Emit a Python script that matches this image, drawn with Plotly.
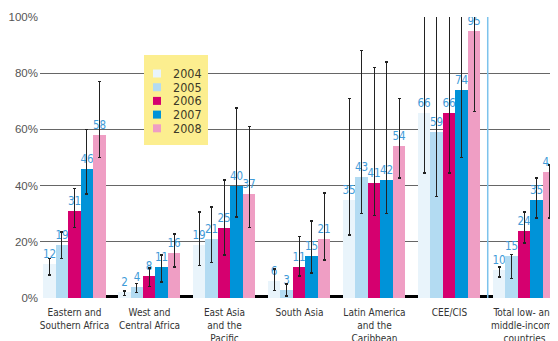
import plotly.graph_objects as go

regions = ["Eastern and<br>Southern Africa", "West and<br>Central Africa", "East Asia<br>and the<br>Pacific",
           "South Asia", "Latin America<br>and the<br>Caribbean", "CEE/CIS",
           "Total low- and<br>middle-income<br>countries"]
years = ["2004", "2005", "2006", "2007", "2008"]
y_ticks = [0, 20, 40, 60, 80, 100]
y_tick_labels = ["0%", "20%", "40%", "60%", "80%", "100%"]

v2004 = [12, 2, 19, 6, 35, 66, 10]
v2005 = [19, 4, 21, 3, 43, 59, 15]
v2006 = [31, 8, 25, 11, 41, 66, 24]
v2007 = [46, 11, 40, 15, 42, 74, 35]
v2008 = [58, 16, 37, 21, 54, 95, 45]

hi2004 = [14.2, 2.5, 30.6, 10.3, 71, 110, 11]
hi2005 = [23.5, 5.3, 32.4, 5, 88, 110, 15.5]
hi2006 = [39, 10.7, 42, 22, 82, 110, 30.6]
hi2007 = [60, 15.3, 67.6, 27.4, 84, 110, 42.7]
hi2008 = [77, 22.8, 61, 37.4, 71, 110, 47.3]

lo2004 = [8.2, 1, 11.7, 2.8, 22.4, 44.5, 7.5]
lo2005 = [14.2, 2.1, 12.5, 0.7, 30, 36, 7]
lo2006 = [25, 4, 15.3, 7.8, 29.5, 44.5, 19.6]
lo2007 = [37, 5.7, 28.8, 8.9, 30, 50, 28.5]
lo2008 = [50, 11, 25, 13.5, 42.7, 66.5, 28.5]

baseline_stub = [1, 1, 1, 1, 1, 1, 1]

colors = ["#e9f4fb", "#b3dbf2", "#d5006f", "#0093d8", "#ef9ec4"]
NARROW = "DejaVu Sans Condensed, sans-serif"

series = [v2004, v2005, v2006, v2007, v2008]
highs = [hi2004, hi2005, hi2006, hi2007, hi2008]
lows = [lo2004, lo2005, lo2006, lo2007, lo2008]

fig = go.Figure()
for yr, vals, hi, lo, col in zip(years, series, highs, lows, colors):
    fig.add_trace(go.Bar(
        name=yr, x=regions, y=vals, marker=dict(color=col, line=dict(width=0)),
        text=[str(v) for v in vals], textposition="outside", constraintext="none",
        textfont=dict(family=NARROW, size=11.5, color="#3f9bd8"),
        error_y=dict(type="data", symmetric=False,
                     array=[h - v for h, v in zip(hi, vals)],
                     arrayminus=[v - l for v, l in zip(vals, lo)],
                     color="#222222", thickness=1.2, width=1.5),
    ))
fig.add_trace(go.Bar(name="", x=regions, y=baseline_stub, marker=dict(color="black", line=dict(width=0)),
                     showlegend=False, hoverinfo="skip"))

# The page body has an 8px margin, so the figure is sized to the visible area.
PAGE = 8
W, L, T, H = 518, 40, 17, 281  # plot area in window pixels


def px(x):
    return (x - L) / W


def py(y):
    return (T + H - y) / H


shapes = [dict(type="rect", xref="paper", yref="paper", x0=px(144), x1=px(208), y0=py(145), y1=py(55),
               fillcolor="#fcee8f", line=dict(width=0), layer="above")]
annotations = []
for i, (yr, col) in enumerate(zip(years, colors)):
    cy = 73.5 + 13.7 * i
    shapes.append(dict(type="rect", xref="paper", yref="paper", x0=px(153), x1=px(161),
                       y0=py(cy + 4), y1=py(cy - 4), fillcolor=col, line=dict(width=0), layer="above"))
    annotations.append(dict(xref="paper", yref="paper", x=px(171), y=py(cy), text=yr, showarrow=False,
                            xanchor="left", yanchor="middle",
                            font=dict(family=NARROW, size=12.5, color="#3d3a28")))

shapes.append(dict(type="line", xref="x", yref="paper", x0=5.43, x1=5.43, y0=0, y1=1,
                   line=dict(color="#7cc3ec", width=1.5)))

fig.update_layout(
    width=558 - PAGE, height=341 - PAGE,
    margin=dict(l=L - PAGE, r=0, t=T - PAGE, b=341 - (T + H)),
    barmode="group", bargap=0, bargroupgap=0,
    plot_bgcolor="white", paper_bgcolor="white", showlegend=False,
    shapes=shapes, annotations=annotations,
    xaxis=dict(type="category", range=[-0.54, 6.367], showgrid=False, ticks="", showline=False,
               automargin=False, ticklabelstandoff=7,
               tickfont=dict(family=NARROW, size=10, color="#333333"), ticklabelshift=-6),
    yaxis=dict(range=[0, 100], tickvals=y_ticks, ticktext=y_tick_labels, automargin=False,
               showgrid=True, gridcolor="#666666", gridwidth=1, zeroline=False, showline=False,
               ticks="", ticklabelstandoff=1,
               tickfont=dict(family="Liberation Sans, Arial, sans-serif", size=11.5, color="#555555")),
)

fig.write_html("out.html")
